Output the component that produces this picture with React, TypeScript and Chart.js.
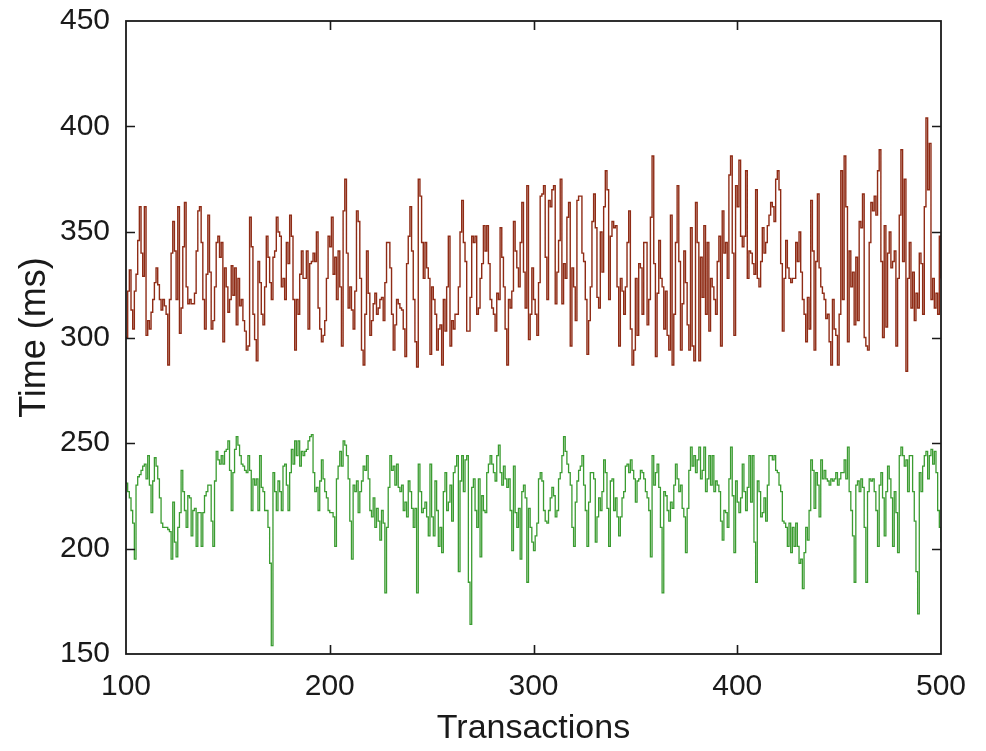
import React, { useEffect, useRef } from "react";
import { Chart, registerables } from "chart.js";

Chart.register(...registerables);

const X_MIN = 100;
const X_MAX = 500;
const Y_MIN = 150;
const Y_MAX = 450;
const xTickValues = [100, 200, 300, 400, 500];
const yTickValues = [150, 200, 250, 300, 350, 400, 450];
const xTitle = "Transactions";
const yTitle = "Time (ms)";

// upper series (red/brown), uniformly sampled across transactions 100..500
const slowTimes = [
  300, 322, 332, 313, 304, 322, 330, 346, 362, 340, 329, 362, 301, 308, 304, 312, 318, 326, 333, 325,
  318, 313, 318, 315, 311, 287, 318, 340, 355, 341, 318, 362, 302, 314, 343, 364, 324, 316, 318, 316,
  316, 321, 341, 360, 362, 345, 318, 304, 330, 358, 331, 304, 308, 324, 345, 348, 338, 345, 298,
  333, 324, 312, 318, 334, 320, 333, 306, 328, 315, 318, 308, 303, 294, 296, 357, 343, 311, 299, 289,
  336, 326, 311, 306, 324, 348, 338, 326, 318, 338, 341, 357, 350, 348, 324, 328, 318, 345, 335, 358,
  348, 318, 294, 318, 311, 330, 341, 328, 328, 341, 304, 335, 336, 340, 336, 350, 314, 304, 298, 301,
  308, 328, 348,
  343, 357, 330, 338, 318, 341, 324, 296, 360, 375, 340, 314, 324, 313, 304, 322, 360, 355, 328, 294,
  287, 311, 341, 321, 301, 308, 316, 321, 311, 314, 318, 319, 308, 326, 345, 345, 333, 311, 294, 306,
  318, 316, 314, 313, 304, 291, 335, 348, 362, 341, 318, 298, 286, 375, 367, 345, 328, 345, 333, 328,
  292, 324, 318,
  311, 294, 304, 306, 287, 318, 303, 324, 348, 296, 308, 304, 311, 311, 324, 350, 365, 345, 336, 303,
  303, 319, 348, 345, 348, 311, 314, 328, 335, 353, 341, 353, 335, 318, 314, 311, 303, 321, 318, 352,
  338, 324, 304, 287, 318, 314, 322, 355, 341, 333, 324, 345, 364, 331, 314, 372, 299, 311, 333, 318,
  311, 301, 326,
  367, 368, 372, 338, 318, 365, 362, 370, 372, 316, 331, 346, 375, 316, 335, 328, 357, 364, 296, 333,
  324, 308, 365, 367, 367, 340, 336, 318, 292, 308, 324, 355, 368, 352, 319, 314, 350, 331, 362, 379,
  370, 318, 348, 355, 352, 353, 324, 296, 328, 322, 311, 324, 345, 360, 304, 287, 294, 328, 301, 335,
  333, 311, 345,
  345, 306, 318, 357, 386, 335, 291, 321, 346, 328, 324, 304, 322, 301, 294, 358, 287, 311, 345, 372,
  336, 294, 316, 341, 326, 306, 294, 352, 296, 289, 364, 345, 289, 338, 319, 353, 311, 345, 303, 328,
  324, 318, 311, 336, 348, 296, 360, 340, 345, 328, 377, 386, 340, 301, 372, 362, 384, 348, 343, 348,
  379, 328, 341,
  340, 335, 330, 370, 328, 324, 336, 352, 340, 345, 353, 358, 364, 362, 355, 375, 379, 370, 335, 303,
  328, 346, 333, 328, 326, 328, 328, 345, 336, 350, 331, 318, 311, 298, 319, 304, 365, 341, 294, 336,
  368, 333, 324, 321, 318, 309, 311, 298, 287, 318, 304, 301, 287, 311, 379, 318, 386, 362, 298, 341,
  324, 331, 306,
  338, 308, 355, 352, 368, 300, 296, 294, 345, 364, 360, 367, 358, 379, 389, 336, 300, 353, 305, 340,
  350, 333, 336, 341, 296, 328, 358, 389, 336, 375, 284, 328, 345, 314, 331, 308, 321, 314, 340, 335,
  311, 362, 404, 370, 392, 318, 328, 314, 321, 311, 348, 328,
];

// lower series (green)
const fastTimes = [
  231, 227, 224, 218, 212, 195, 230, 234, 235, 237, 239, 240, 233, 244, 230, 217, 232, 243, 239, 233,
  224, 212, 210, 210, 210, 209, 208, 195, 222, 203, 196, 210, 217, 237, 227, 218, 210, 225, 224, 206,
  218, 219, 201, 217, 217, 201, 217, 225, 227, 230, 230, 213, 201, 232, 246, 242, 240, 244, 240,
  246, 247, 251, 237, 218, 236, 247, 253, 249, 244, 240, 239, 237, 236, 244, 237, 218, 233, 230, 233,
  218, 244, 229, 227, 218, 218, 210, 193, 154, 236, 227, 218, 232, 227, 218, 239, 240, 230, 218, 236,
  247, 240, 251, 244, 251, 239, 246, 244, 246, 247, 251, 253, 254, 236, 227, 229, 218, 232, 242, 233,
  227, 224, 218,
  217, 217, 215, 201, 233, 239, 246, 239, 251, 249, 244, 233, 213, 195, 230, 227, 232, 217, 227, 232,
  239, 237, 244, 233, 218, 215, 224, 210, 219, 213, 204, 218, 212, 179, 210, 229, 244, 237, 239, 230,
  240, 229, 227, 230, 218, 222, 215, 232, 227, 219, 210, 219, 179, 240, 227, 217, 219, 222, 215, 206,
  240, 215, 206,
  232, 218, 201, 210, 198, 227, 236, 218, 222, 230, 213, 236, 239, 244, 189, 232, 244, 227, 242, 244,
  184, 164, 229, 233, 218, 210, 233, 196, 225, 218, 217, 236, 240, 244, 240, 236, 232, 244, 249, 236,
  230, 239, 233, 229, 233, 218, 199, 239, 217, 210, 219, 195, 227, 230, 224, 184, 219, 210, 203, 199,
  206, 212, 233,
  236, 232, 218, 213, 212, 218, 224, 229, 225, 215, 218, 233, 236, 244, 253, 246, 240, 236, 230, 210,
  201, 222, 232, 237, 239, 244, 230, 218, 201, 222, 236, 236, 233, 203, 215, 224, 218, 227, 242, 236,
  219, 201, 232, 233, 218, 224, 215, 206, 215, 224, 227, 239, 240, 236, 242, 237, 233, 222, 232, 233,
  237, 236, 233,
  227, 224, 218, 196, 244, 230, 236, 240, 229, 210, 179, 227, 225, 218, 213, 222, 219, 230, 240, 233,
  227, 230, 219, 215, 198, 219, 237, 248, 239, 244, 236, 242, 248, 233, 237, 248, 227, 233, 244, 230,
  244, 227, 232, 230, 227, 213, 204, 218, 217, 210, 233, 248, 225, 198, 232, 222, 217, 224, 240, 227,
  218, 229, 244,
  222, 244, 203, 184, 232, 227, 215, 217, 224, 213, 230, 244, 244, 242, 244, 237, 236, 230, 227, 213,
  212, 210, 201, 212, 198, 210, 201, 212, 201, 193, 195, 181, 198, 210, 204, 218, 242, 237, 219, 236,
  230, 215, 242, 233, 237, 233, 232, 230, 233, 232, 233, 236, 230, 233, 236, 236, 242, 233, 248, 227,
  218, 206, 184,
  230, 232, 227, 233, 229, 210, 184, 227, 233, 232, 233, 227, 218, 201, 230, 236, 224, 206, 227, 239,
  233, 224, 201, 227, 217, 198, 244, 248, 244, 239, 242, 227, 244, 244, 227, 213, 189, 169, 236, 227,
  239, 244, 246, 233, 244, 247, 240, 246, 236, 218, 210, 203,
];

const FONT = "'Liberation Sans', Arial, Helvetica, sans-serif";

function toPoints(values: number[]) {
  const n = values.length;
  return values.map((v, i) => ({ x: X_MIN + (i * (X_MAX - X_MIN)) / (n - 1), y: v }));
}

const framePlugin = {
  id: "frame",
  afterDatasetsDraw(chart: any) {
    const { ctx, chartArea, scales } = chart;
    const { left, right, top, bottom } = chartArea;
    ctx.save();
    ctx.strokeStyle = "#1a1a1a";
    ctx.lineWidth = 1.6;
    ctx.beginPath();
    const tl = 9;
    yTickValues.forEach((v) => {
      if (v === Y_MIN || v === Y_MAX) return;
      const y = Math.round(scales.y.getPixelForValue(v)) + 0.5;
      ctx.moveTo(left, y);
      ctx.lineTo(left + tl, y);
      ctx.moveTo(right, y);
      ctx.lineTo(right - tl, y);
    });
    xTickValues.forEach((v) => {
      if (v === X_MIN || v === X_MAX) return;
      const x = Math.round(scales.x.getPixelForValue(v)) + 0.5;
      ctx.moveTo(x, bottom);
      ctx.lineTo(x, bottom - tl);
      ctx.moveTo(x, top);
      ctx.lineTo(x, top + tl);
    });
    ctx.stroke();
    ctx.lineWidth = 1.8;
    ctx.strokeRect(left, top, right - left, bottom - top);
    ctx.restore();
  },
};

export default function App() {
  const ref = useRef<HTMLCanvasElement | null>(null);

  useEffect(() => {
    if (!ref.current) return;
    const chart = new Chart(ref.current, {
      type: "line",
      data: {
        datasets: [
          {
            data: toPoints(slowTimes),
            borderColor: "#8f2c16",
            borderWidth: 1.4,
            pointRadius: 0,
            stepped: true,
            fill: false,
          },
          {
            data: toPoints(fastTimes),
            borderColor: "#3b9c31",
            borderWidth: 1.3,
            pointRadius: 0,
            stepped: true,
            fill: false,
          },
        ],
      },
      options: {
        animation: false,
        responsive: false,
        maintainAspectRatio: false,
        parsing: false,
        normalized: true,
        layout: { padding: { top: 21, right: 45, left: 0, bottom: 0 } },
        plugins: {
          legend: { display: false },
          tooltip: { enabled: false },
        },
        scales: {
          x: {
            type: "linear",
            min: X_MIN,
            max: X_MAX,
            grid: { display: false, drawTicks: false },
            border: { display: false },
            afterBuildTicks: (scale: any) => {
              scale.ticks = xTickValues.map((v) => ({ value: v }));
            },
            afterFit: (scale: any) => {
              scale.height = 97;
              scale.paddingLeft = 0;
              scale.paddingRight = 0;
            },
            ticks: {
              padding: 15,
              color: "#1a1a1a",
              font: { family: FONT, size: 30 },
            },
            title: {
              display: true,
              text: xTitle,
              color: "#1a1a1a",
              font: { family: FONT, size: 34 },
              padding: { top: 0, bottom: 2 },
            },
          },
          y: {
            type: "linear",
            min: Y_MIN,
            max: Y_MAX,
            grid: { display: false, drawTicks: false },
            border: { display: false },
            afterBuildTicks: (scale: any) => {
              scale.ticks = yTickValues.map((v) => ({ value: v }));
            },
            afterFit: (scale: any) => {
              scale.width = 126;
              scale.paddingTop = 0;
              scale.paddingBottom = 0;
            },
            ticks: {
              padding: 16,
              color: "#1a1a1a",
              font: { family: FONT, size: 30 },
            },
            title: {
              display: true,
              text: yTitle,
              color: "#1a1a1a",
              font: { family: FONT, size: 36 },
              padding: { top: 13, bottom: 0 },
            },
          },
        },
      },
      plugins: [framePlugin],
    });
    return () => chart.destroy();
  }, []);

  return (
    <div style={{ position: "fixed", left: 0, top: 0, width: 986, height: 751, background: "#fff" }}>
      <canvas ref={ref} width={986} height={751} style={{ display: "block", width: 986, height: 751 }} />
    </div>
  );
}
